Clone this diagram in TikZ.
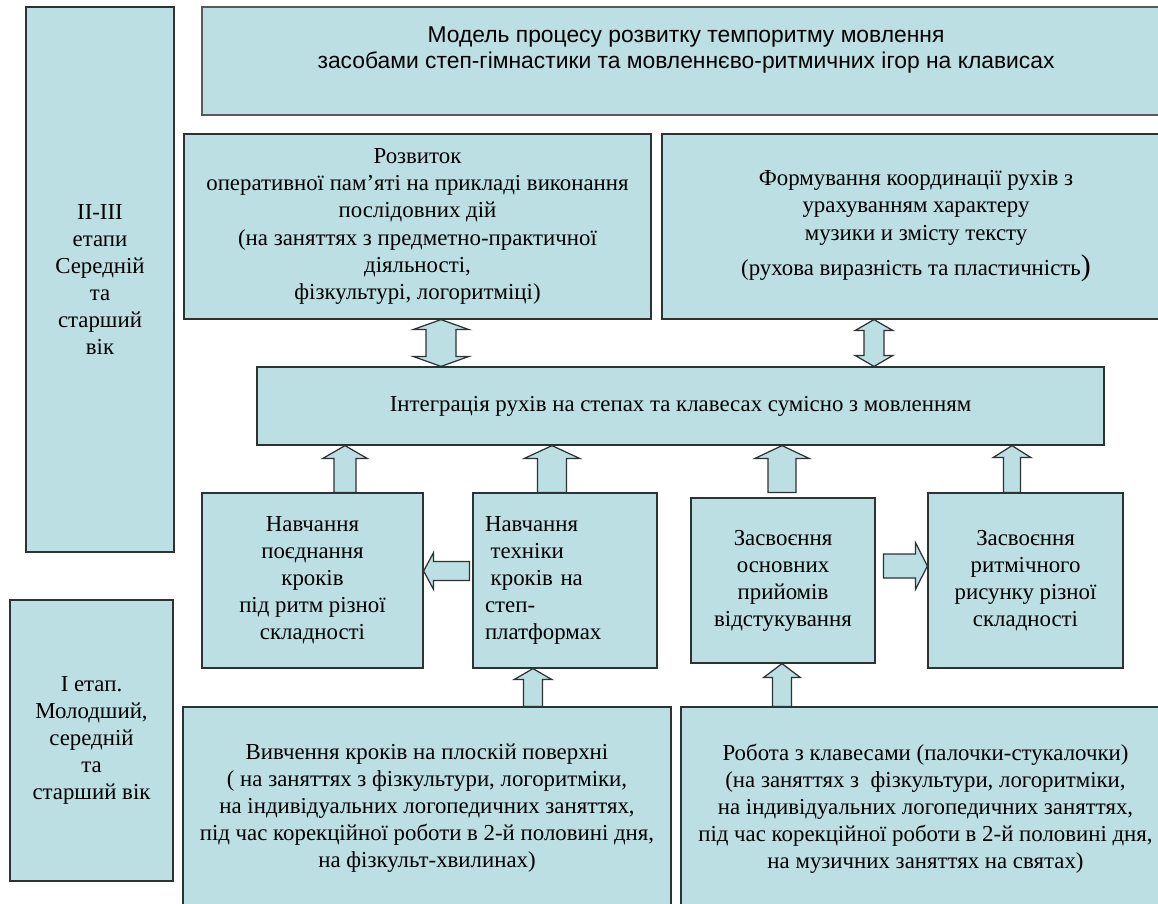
\documentclass[tikz,border=0pt]{standalone}
\usepackage{fontspec}
\setmainfont{Liberation Serif}
\newfontfamily\titlefont{Liberation Sans}
\usetikzlibrary{calc}
\definecolor{boxfill}{RGB}{187,223,227}
\definecolor{boxline}{RGB}{45,50,50}
\def\pxu{0.569pt}
% block arrows: start, target, half shaft, half head, head length (px)
\newcommand{\vblk}[5]{%
  \path[blk] let \p1=(#1), \p2=(#2), \n1={sign(\y2-\y1)*#5*\pxu} in
    (\x1-#3*\pxu,\y1) -- (\x1-#3*\pxu,\y2-\n1) -- (\x1-#4*\pxu,\y2-\n1) -- (\x1,\y2)
    -- (\x1+#4*\pxu,\y2-\n1) -- (\x1+#3*\pxu,\y2-\n1) -- (\x1+#3*\pxu,\y1) -- cycle;}
\newcommand{\hblk}[5]{%
  \path[blk] let \p1=(#1), \p2=(#2), \n1={sign(\x2-\x1)*#5*\pxu} in
    (\x1,\y1-#3*\pxu) -- (\x2-\n1,\y1-#3*\pxu) -- (\x2-\n1,\y1-#4*\pxu) -- (\x2,\y1)
    -- (\x2-\n1,\y1+#4*\pxu) -- (\x2-\n1,\y1+#3*\pxu) -- (\x1,\y1+#3*\pxu) -- cycle;}
\newcommand{\dblk}[5]{%
  \path[blk] let \p1=(#1), \p2=(#2), \n1={sign(\y2-\y1)*#5*\pxu} in
    (\x1,\y1) -- (\x1+#4*\pxu,\y1+\n1) -- (\x1+#3*\pxu,\y1+\n1) -- (\x1+#3*\pxu,\y2-\n1)
    -- (\x1+#4*\pxu,\y2-\n1) -- (\x1,\y2) -- (\x1-#4*\pxu,\y2-\n1) -- (\x1-#3*\pxu,\y2-\n1)
    -- (\x1-#3*\pxu,\y1+\n1) -- (\x1-#4*\pxu,\y1+\n1) -- cycle;}

\begin{document}
\begin{tikzpicture}[x=0.02cm, y=-0.02cm,
    box/.style={draw=boxline, line width=0.7pt, fill=boxfill, align=center, inner sep=0pt,
      font=\fontsize{13}{15.4}\selectfont},
    blk/.style={draw=boxline, line width=0.7pt, fill=boxfill, line join=miter}]
  \useasboundingbox (0,0) rectangle (1158,903);
  \clip (0,0) rectangle (1158,903);

  \node[box, minimum width=2.96cm, minimum height=10.9cm] (stage2) at (100,279.5)
    {II-III\\етапи\\Середній\\та\\старший\\вік};
  \node[box, minimum width=3.26cm, minimum height=5.62cm] (stage1) at (91.5,740.5)
    {I етап.\\Молодший,\\середній\\та\\старший вік};

  \node[box, draw=gray!70!black, line width=1.2pt, font=\titlefont\fontsize{13}{14.8}\selectfont,
    minimum width=19.36cm, minimum height=2.16cm] (title) at (686,61)
    {Модель процесу розвитку темпоритму мовлення\\засобами степ-гімнастики та мовленнєво-ритмичних ігор на клависах\\\mbox{}};

  \node[box, minimum width=9.34cm, minimum height=3.7cm] (dev) at (417.5,226.5)
    {Розвиток\\оперативної пам’яті на прикладі виконання\\послідовних дій\\(на заняттях з предметно-практичної\\діяльності,\\фізкультурі, логоритміці)};
  \node[box, minimum width=10.16cm, minimum height=3.7cm] (coord) at (916,226.5)
    {Формування координації рухів з\\урахуванням характеру\\музики и змісту тексту\\[5pt](рухова виразність та пластичність{\fontsize{17}{17}\selectfont)}};

  \node[box, minimum width=16.94cm, minimum height=1.56cm] (integ) at (680.5,406)
    {Інтеграція рухів на степах та клавесах сумісно з мовленням};

  \node[box, minimum width=4.42cm, minimum height=3.5cm] (comb) at (312.5,580.5)
    {Навчання\\поєднання\\кроків\\під ритм різної\\складності};
  \node[box, align=left, text width=3.2cm, inner xsep=0.24cm, minimum height=3.5cm] (tech) at (565,580.5)
    {Навчання\\\hspace*{.25em}техніки\\\hspace*{.25em}кроків на\\степ-\\платформах};
  \node[box, minimum width=3.68cm, minimum height=3.3cm] (tap) at (783,580.5)
    {Засвоєння\\основних\\прийомів\\відстукування};
  \node[box, minimum width=3.9cm, minimum height=3.5cm] (rhythm) at (1025.5,580.5)
    {Засвоєння\\ритмічного\\рисунку різної\\складності};

  \node[box, minimum width=9.76cm, minimum height=4.06cm] (flat) at (427,808.5)
    {Вивчення кроків на плоскій поверхні\\( на заняттях з фізкультури, логоритміки,\\на індивідуальних логопедичних заняттях,\\під час корекційної роботи в 2-й половині дня,\\на фізкульт-хвилинах)};
  \node[box, minimum width=9.78cm, minimum height=4.06cm] (clave) at (925.5,808.5)
    {Робота з клавесами (палочки-стукалочки)\\(на заняттях з\ \ фізкультури, логоритміки,\\на індивідуальних логопедичних заняттях,\\під час корекційної роботи в 2-й половині дня,\\на музичних заняттях на святах)};

  \dblk{$(dev.south)+(23.5,0)$}{integ.north}{15}{28}{10}
  \dblk{$(coord.south)+(-42,0)$}{integ.north}{10}{19}{11}

  \vblk{$(comb.north)+(32.5,0)$}{integ.south}{11}{22.5}{13}
  \vblk{$(tech.north)+(-13,0)$}{integ.south}{14.5}{28}{13}
  \vblk{$(tap.north)+(-1,-5)$}{integ.south}{14}{27.5}{13}
  \vblk{$(rhythm.north)+(-13.5,0)$}{integ.south}{8.5}{19}{12}

  \hblk{$(tech.west)+(-3,-9.5)$}{comb.east}{9.5}{18.5}{10}
  \hblk{$(tap.east)+(8,-14.5)$}{rhythm.west}{12}{23.5}{12}

  \vblk{$(flat.north)+(106,0)$}{tech.south}{9.5}{19}{11}
  \vblk{$(clave.north)+(-143.5,0)$}{tap.south}{9.5}{18.5}{14}
\end{tikzpicture}
\end{document}
